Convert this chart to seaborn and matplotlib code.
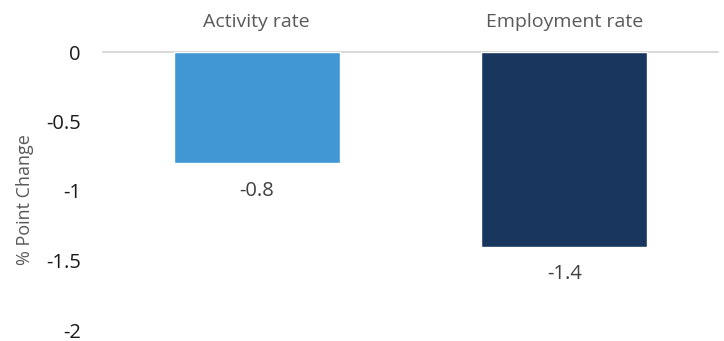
import matplotlib
matplotlib.use("Agg")
import matplotlib.pyplot as plt
import seaborn as sns
import pandas as pd

categories = ["Activity rate", "Employment rate"]
changes = [-0.8, -1.4]
bar_colors = ["#4097d4", "#19375e"]
y_ticks = [0, -0.5, -1, -1.5, -2]
y_tick_labels = ["0", "-0.5", "-1", "-1.5", "-2"]

sns.set_theme(style="white")
plt.rcParams["font.family"] = ["Open Sans", "DejaVu Sans"]

df = pd.DataFrame({"category": categories, "change": changes})

fig = plt.figure(figsize=(7.24, 3.41), dpi=100)
ax = fig.add_axes([103 / 724, 1 - 330 / 341, 615 / 724, (330 - 52) / 341])

sns.barplot(data=df, x="category", y="change", hue="category",
            palette=bar_colors, width=0.54, saturation=1, legend=False, ax=ax)

ax.set_ylim(-2, 0)
ax.set_xlim(-0.5, 1.5)
ax.set_yticks(y_ticks)
ax.set_yticklabels(y_tick_labels, fontsize=14.5, color="#1a1a1a")
ax.tick_params(axis="y", length=0, pad=16)

# category names along the top, above the zero line
ax.xaxis.set_ticks_position("top")
ax.set_xticks(range(len(categories)))
ax.set_xticklabels(categories, fontsize=14, color="#595959")
ax.tick_params(axis="x", length=0, pad=15)
ax.set_xlabel("")
ax.set_ylabel("% Point Change", fontsize=13, color="#595959")
ax.yaxis.set_label_coords(-0.113, 0.468)

for s in ["left", "right", "bottom", "top"]:
    ax.spines[s].set_visible(False)
ax.axhline(0, color="#d9d9d9", lw=1.5, zorder=0, clip_on=False)

for i, v in enumerate(changes):
    ax.annotate(f"{v:g}", xy=(i, v), xytext=(0, -20), textcoords="offset points",
                ha="center", va="center", fontsize=14.5, color="#404040")

fig.savefig("out.png", dpi=100)
